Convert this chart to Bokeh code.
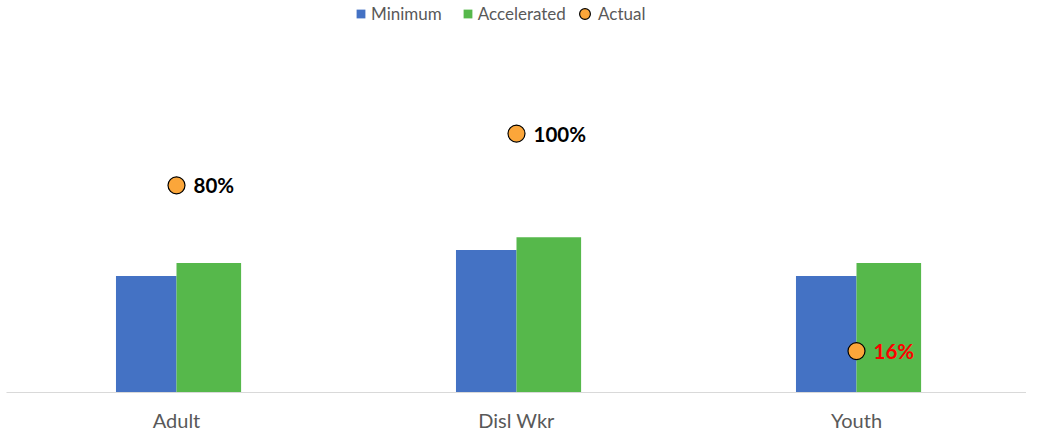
from bokeh.plotting import figure
from bokeh.models import ColumnDataSource, Legend, LegendItem, Range1d, FactorRange
from bokeh.transform import dodge
from bokeh.core.properties import value
from bokeh.embed import file_html
from bokeh.resources import INLINE

categories = ["Adult", "Disl Wkr", "Youth"]
minimum = [45, 55, 45]
accelerated = [50, 60, 50]
actual = [80, 100, 16]
actual_labels = ["80%", "100%", "16%"]
label_colors = ["#000000", "#000000", "#FF0000"]

src = ColumnDataSource(dict(cat=categories, minimum=minimum, accelerated=accelerated,
                            actual=actual, lab=actual_labels, lc=label_colors))

FH = 392
p = figure(x_range=FactorRange(*categories, range_padding=0), y_range=Range1d(0, 151.4),
           frame_width=1020, frame_height=FH, output_backend="svg", toolbar_location=None,
           min_border_left=6, min_border_right=0, min_border_top=0, min_border_bottom=39)
p.outline_line_color = None
p.xgrid.visible = False
p.ygrid.visible = False
p.yaxis.visible = False

r1 = p.vbar(x=dodge("cat", -0.089, range=p.x_range), top="minimum", width=0.178, source=src,
            fill_color="#4472C4", line_color=None)
r2 = p.vbar(x=dodge("cat", 0.095, range=p.x_range), top="accelerated", width=0.19, source=src,
            fill_color="#56B84B", line_color=None)
r3 = p.scatter(x="cat", y="actual", source=src, size=17, marker="circle",
               fill_color="#FBA63A", line_color="#000000", line_width=1.2)
p.text(x="cat", y="actual", text="lab", source=src, x_offset=17, text_align="left",
       text_baseline="middle", text_color="lc", text_font=value("Lato"),
       text_font_style="bold", text_font_size="20.5px")

xa = p.xaxis[0]
xa.axis_line_color = "#D9D9D9"
xa.axis_line_width = 1
xa.major_tick_line_color = None
xa.minor_tick_line_color = None
xa.major_label_text_font = "Lato"
xa.major_label_text_font_size = "20px"
xa.major_label_text_color = "#595959"
xa.major_label_standoff = 9

def style(lg):
    lg.background_fill_alpha = 0
    lg.border_line_color = None
    lg.label_text_font = "Lato"
    lg.label_text_font_size = "17px"
    lg.label_text_color = "#595959"
    lg.padding = 0
    lg.margin = 0
    lg.orientation = "horizontal"

leg1 = Legend(items=[LegendItem(label="Minimum", renderers=[r1]),
                     LegendItem(label="Accelerated", renderers=[r2])],
              location=(349, FH - 14 - 10))
style(leg1)
leg1.glyph_width = 11
leg1.glyph_height = 11
leg1.label_standoff = 5
leg1.spacing = 20
leg1.label_height = 20

leg2 = Legend(items=[LegendItem(label="Actual", renderers=[r3])],
              location=(565, FH - 14 - 13))
style(leg2)
leg2.glyph_width = 27
leg2.glyph_height = 27
leg2.label_standoff = 0
leg2.label_height = 20

p.add_layout(leg1)
p.add_layout(leg2)

open("out.html", "w").write(file_html(p, INLINE))
